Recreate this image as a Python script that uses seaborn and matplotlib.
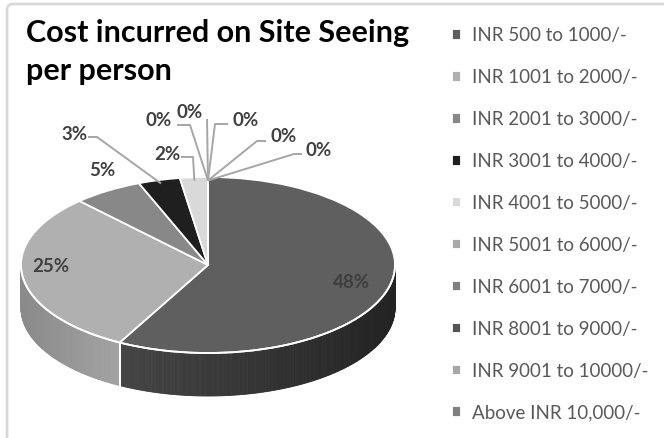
import numpy as np
import matplotlib
matplotlib.use("Agg")
import matplotlib.pyplot as plt
import seaborn as sns
from matplotlib.transforms import Affine2D
from matplotlib.patches import Polygon, FancyBboxPatch
import matplotlib.colors as mcolors

# ---------------- data ----------------
categories = ["INR 500 to 1000/-", "INR 1001 to 2000/-", "INR 2001 to 3000/-",
              "INR 3001 to 4000/-", "INR 4001 to 5000/-", "INR 5001 to 6000/-",
              "INR 6001 to 7000/-", "INR 8001 to 9000/-", "INR 9001 to 10000/-",
              "Above INR 10,000/-"]
percent_values = [48, 25, 5, 3, 2, 0, 0, 0, 0, 0]
title_lines = ["Cost incurred on Site Seeing", "per person"]

# ---------------- style ----------------
top_colors = ["#5f5f5f", "#b0b0b0", "#888888", "#1f1f1f", "#d9d9d9",
              "#a8a8a8", "#7f7f7f", "#555555", "#a8a8a8", "#808080"]
side_left = ["#454545", "#8a8a8a", "#6a6a6a", "#151515", "#b0b0b0",
             "#8a8a8a", "#666666", "#404040", "#8a8a8a", "#666666"]
side_right = ["#232323", "#a2a2a2", "#7a7a7a", "#1a1a1a", "#c0c0c0",
              "#9a9a9a", "#707070", "#4a4a4a", "#9a9a9a", "#707070"]

sns.set_theme(style="white")
plt.rcParams['font.family'] = ['Lato', 'DejaVu Sans']

W, H = 664, 438
fig = plt.figure(figsize=(W / 100, H / 100), dpi=100)
ax = fig.add_axes([0, 0, 1, 1])

def P(x, y_img):
    return (x, H - y_img)

# ellipse geometry (image pixels)
cx, cy_img = 208, 265
a, b = 187, 88
depth = 43
cy = H - cy_img
k = b / a

wedges, _ = ax.pie(percent_values, colors=top_colors, startangle=90,
                   counterclock=False, center=(cx, cy), radius=a,
                   wedgeprops=dict(edgecolor="white", linewidth=1.3))
ax.set_xlim(0, W)
ax.set_ylim(0, H)
ax.set_aspect("auto")
ax.axis("off")

trans = Affine2D().translate(-cx, -cy).scale(1, k).translate(cx, cy) + ax.transData
for w in wedges:
    w.set_transform(trans)
    w.set_zorder(5)

def rim(theta_deg, dy=0.0):
    t = np.deg2rad(theta_deg)
    return (cx + a * np.cos(t), cy + b * np.sin(t) - dy)

# side walls
for i, w in enumerate(wedges):
    t1, t2 = w.theta1, w.theta2
    if t2 - t1 <= 0:
        continue
    c0 = np.array(mcolors.to_rgb(side_left[i]))
    c1 = np.array(mcolors.to_rgb(side_right[i]))
    steps = np.arange(t1, t2, 0.5).tolist() + [t2]
    visible = [(s, e) for s, e in zip(steps[:-1], steps[1:])
               if np.sin(np.deg2rad((s + e) / 2)) < 0]
    if not visible:
        continue
    xs_all = [rim(s)[0] for s, _ in visible] + [rim(e)[0] for _, e in visible]
    xmin, xmax = min(xs_all), max(xs_all)
    for s, e in visible:
        xm = (rim(s)[0] + rim(e)[0]) / 2
        f = 0 if xmax == xmin else (xm - xmin) / (xmax - xmin)
        col = c0 * (1 - f) + c1 * f
        poly = Polygon([rim(s), rim(e), rim(e, depth), rim(s, depth)],
                       closed=True, facecolor=col, edgecolor=col,
                       linewidth=0.6, zorder=2)
        ax.add_patch(poly)
    for t in (t1, t2):
        if np.sin(np.deg2rad(t)) < -0.02:
            p0, p1 = rim(t), rim(t, depth)
            ax.plot([p0[0], p1[0]], [p0[1], p1[1]], color="white", lw=1.3, zorder=3)

# white front rim line
tt = np.linspace(180, 360, 200)
ax.plot([rim(t)[0] for t in tt], [rim(t)[1] for t in tt], color="white", lw=1.3, zorder=6)

# ---------------- data labels ----------------
lab_color = "#404040"
lead_color = "#a6a6a6"
lab_fs = 13.5

def mid(w):
    return (w.theta1 + w.theta2) / 2

ax.text(*P(352, 283), f"{percent_values[0]}%", ha="center", va="center",
        fontsize=lab_fs, fontweight="bold", color="#3e3e3e", zorder=8)
ax.text(*P(51, 267), f"{percent_values[1]}%", ha="center", va="center",
        fontsize=lab_fs, fontweight="bold", color=lab_color, zorder=8)
ax.text(*P(102, 170), f"{percent_values[2]}%", ha="center", va="center",
        fontsize=lab_fs, fontweight="bold", color=lab_color, zorder=8)

leader_layout = {
    3: ((74, 135), [(88, 137), (97, 137)]),
    4: ((167, 154), [(181, 157), (193, 157)]),
    5: ((159, 120), [(177, 125), (190, 125)]),
    6: ((190, 113), [(207, 119)]),
    7: ((246, 121), [(228, 124), (215, 124)]),
    8: ((284, 137), [(266, 141), (257, 141)]),
    9: ((319, 151), [(302, 154), (294, 154)]),
}
for i, (tpos, elbows) in leader_layout.items():
    ax.text(*P(*tpos), f"{percent_values[i]}%", ha="center", va="center",
            fontsize=lab_fs, fontweight="bold", color=lab_color, zorder=8)
    r_in = 0.96
    t = np.deg2rad(mid(wedges[i]))
    anchor = (cx + a * r_in * np.cos(t), cy + b * r_in * np.sin(t))
    pts = [P(*e) for e in elbows] + [anchor]
    ax.plot([p[0] for p in pts], [p[1] for p in pts], color=lead_color,
            lw=1.4, zorder=7, solid_capstyle="butt")

# ---------------- title ----------------
ax.text(*P(26, 42), title_lines[0], ha="left", va="baseline", fontsize=22,
        fontweight="bold", color="black", zorder=9)
ax.text(*P(26, 80), title_lines[1], ha="left", va="baseline", fontsize=22,
        fontweight="bold", color="black", zorder=9)

# ---------------- legend ----------------
leg = ax.legend(wedges, categories, loc="upper left",
                bbox_to_anchor=(452 / W, 1 - 27 / H), frameon=False,
                fontsize=13.5, handlelength=0.5, handleheight=0.5,
                handletextpad=0.55, labelspacing=1.33, borderpad=0,
                borderaxespad=0)
for t in leg.get_texts():
    t.set_color("#595959")

# ---------------- outer frame ----------------
frame = FancyBboxPatch((7, -20), W + 20, (H - 4) + 20,
                       boxstyle="round,pad=0,rounding_size=6",
                       facecolor="none", edgecolor="#d9d9d9", linewidth=2,
                       zorder=1, clip_on=False)
ax.add_patch(frame)

fig.savefig("out.png", dpi=100)
